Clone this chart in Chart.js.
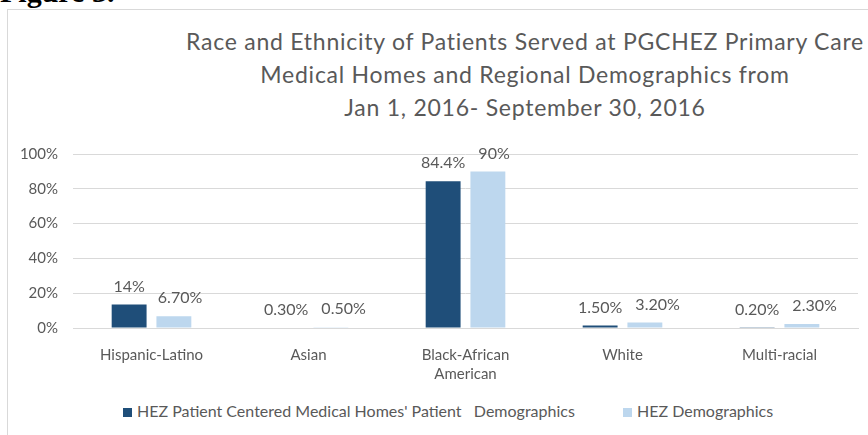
<!DOCTYPE html>
<html>
<head>
<meta charset="utf-8">
<script src="https://cdn.jsdelivr.net/npm/chart.js@4.4.1/dist/chart.umd.min.js"></script>
<style>
  html, body { margin: 0; padding: 0; width: 868px; height: 435px; overflow: hidden; background: #fff; }
  #fig { position: absolute; left: 0; top: -23px; font: bold 30px "Liberation Serif", serif; line-height: 30px; color: #000; white-space: nowrap; }
  #frame { position: absolute; left: 7px; top: 9px; width: 1000px; height: 500px; border-left: 1px solid #d9d9d9; border-top: 1px solid #d9d9d9; }
  #title { position: absolute; left: 25px; width: 1000px; top: 25px; text-align: center; font: 23px Lato, sans-serif; letter-spacing: 0.75px; line-height: 33px; color: #595959; }
  #chart { position: absolute; left: 8px; top: 130px; }
  #legend { position: absolute; top: 401px; left: 123px; font: 16px Lato, sans-serif; color: #595959; white-space: nowrap; }
  #legend span.item { position: absolute; top: 0; white-space: nowrap; }
  #legend i { display: inline-block; width: 9px; height: 9px; margin-right: 5px; vertical-align: 0px; }
</style>
</head>
<body>
<div id="fig">Figure 3.</div>
<div id="frame"></div>
<div id="title">Race and Ethnicity of Patients Served at PGCHEZ Primary Care<br>Medical Homes and Regional Demographics from<br>Jan 1, 2016- September 30, 2016</div>
<canvas id="chart" width="860" height="260"></canvas>
<div id="legend"></div>
<script>
  const categories = ["Hispanic-Latino", "Asian", ["Black-African", "American"], "White", "Multi-racial"];
  const seriesNames = ["HEZ Patient Centered Medical Homes' Patient   Demographics", "HEZ Demographics"];
  const pcmhValues = [13.5, 0.3, 84.4, 1.5, 0.2];
  const hezValues = [6.7, 0.5, 90, 3.2, 2.3];
  const pcmhLabels = ["14%", "0.30%", "84.4%", "1.50%", "0.20%"];
  const hezLabels = ["6.70%", "0.50%", "90%", "3.20%", "2.30%"];
  const yTicks = [0, 20, 40, 60, 80, 100];

  const colors = ["#1f4e79", "#bdd7ee"];
  const textColor = "#595959";
  const gridColor = "#d9d9d9";
  const fontFamily = "Lato, sans-serif";

  // draws the value labels above each bar, nudging the second one right if they collide
  const valueLabels = {
    id: "valueLabels",
    afterDatasetsDraw(chart) {
      const ctx = chart.ctx;
      const labelSets = [pcmhLabels, hezLabels];
      ctx.save();
      ctx.font = "16px " + fontFamily;
      ctx.fillStyle = textColor;
      ctx.textAlign = "center";
      ctx.textBaseline = "middle";
      const prevRight = {};
      chart.data.datasets.forEach((ds, di) => {
        const meta = chart.getDatasetMeta(di);
        meta.data.forEach((bar, i) => {
          const text = labelSets[di][i];
          const w = ctx.measureText(text).width;
          let x = bar.x;
          if (prevRight[i] !== undefined && x - w / 2 < prevRight[i] + 13) {
            x = prevRight[i] + 13 + w / 2;
          }
          ctx.fillText(text, x, bar.y - 18);
          prevRight[i] = x + w / 2;
        });
      });
      ctx.restore();
    },
  };

  new Chart(document.getElementById("chart"), {
    type: "bar",
    data: {
      labels: categories,
      datasets: [
        { label: seriesNames[0], data: pcmhValues, backgroundColor: colors[0] },
        { label: seriesNames[1], data: hezValues, backgroundColor: colors[1] },
      ],
    },
    options: {
      responsive: false,
      animation: false,
      datasets: { bar: { categoryPercentage: 0.57, barPercentage: 0.78 } },
      layout: { padding: { top: 17, right: 10, bottom: 0, left: 0 } },
      plugins: {
        legend: { display: false },
        title: { display: false },
        tooltip: { enabled: false },
      },
      scales: {
        x: {
          grid: { display: false, drawTicks: false },
          border: { display: true, color: gridColor },
          ticks: { color: textColor, font: { family: fontFamily, size: 15, lineHeight: 1.25 }, padding: 18, maxRotation: 0 },
          afterFit: (scale) => { scale.height = 62; },
        },
        y: {
          min: 0,
          max: 100,
          afterBuildTicks: (scale) => { scale.ticks = yTicks.map((v) => ({ value: v })); },
          grid: { color: gridColor, drawTicks: false },
          border: { display: false },
          ticks: { color: textColor, font: { family: fontFamily, size: 15 }, padding: 15, callback: (v) => v + "%" },
          afterFit: (scale) => { scale.width = 65; },
        },
      },
    },
    plugins: [valueLabels],
  });

  // legend in the page, built from the series names and colours
  const legend = document.getElementById("legend");
  const legendX = [0, 500];
  seriesNames.forEach((name, i) => {
    const item = document.createElement("span");
    item.className = "item";
    item.style.left = legendX[i] + "px";
    item.innerHTML = '<i style="background:' + colors[i] + '"></i>' + name.replace(/ (?= )/g, "&nbsp;");
    legend.appendChild(item);
  });
</script>
</body>
</html>
